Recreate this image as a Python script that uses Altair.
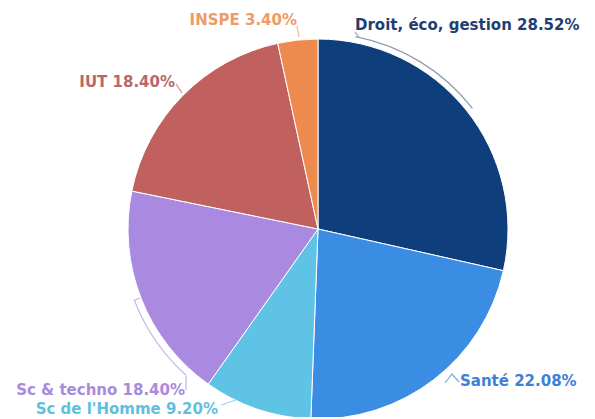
import altair as alt
import pandas as pd
import math

# --- data ---
categories = ["Droit, éco, gestion", "Santé", "Sc de l'Homme", "Sc & techno", "IUT", "INSPE"]
values = [28.52, 22.08, 9.20, 18.40, 18.40, 3.40]
slice_colors = ["#0E3E7C", "#3A8DE3", "#5EC3E5", "#A98AE0", "#C0605F", "#EE8A4E"]
label_colors = ["#1F3F73", "#3E80D8", "#5FBFE0", "#A98BDB", "#B9676A", "#F09A66"]

# --- layout of labels (chart pixel coords) ---
label_x = [347, 452, 210, 177, 167, 289]
label_y = [22, 378, 406, 387, 79, 17]
label_align = ["left", "left", "right", "right", "right", "right"]

CX, CY, R = 310, 221, 190

df = pd.DataFrame({
    "cat": categories,
    "value": values,
    "idx": list(range(len(categories))),
})
df["label"] = [f"{c} {v:.2f}%" for c, v in zip(categories, values)]
df["lx"] = label_x
df["ly"] = label_y
df["align"] = label_align
df["lcol"] = label_colors

pie = alt.Chart(df).mark_arc(radius=R, stroke="white", strokeWidth=1).encode(
    theta=alt.Theta("value:Q", stack=True),
    order=alt.Order("idx:Q"),
    color=alt.Color("cat:N", scale=alt.Scale(domain=categories, range=slice_colors), legend=None),
    x=alt.value(CX),
    y=alt.value(CY),
)

def text_layer(align):
    return alt.Chart(df[df["align"] == align]).mark_text(
        align=align, baseline="alphabetic", font="DejaVu Sans", fontSize=15, fontWeight="bold"
    ).encode(
        x=alt.X("lx:Q", scale=None),
        y=alt.Y("ly:Q", scale=None),
        text="label:N",
        color=alt.Color("lcol:N", scale=None),
    )

# --- leader brackets (arcs following the pie edge) ---
bracket_start_deg = [11, 222]
bracket_end_deg = [52, 249]
bracket_radius = [196, 197]
bracket_color = ["#8C9DB5", "#C4B0EA"]
br = pd.DataFrame({
    "t1": [math.radians(d) for d in bracket_start_deg],
    "t2": [math.radians(d) for d in bracket_end_deg],
    "col": bracket_color,
})
brackets = []
for i in range(len(br)):
    brackets.append(
        alt.Chart(br.iloc[[i]]).mark_arc(
            radius=bracket_radius[i], radius2=bracket_radius[i], fillOpacity=0, strokeWidth=1.2
        ).encode(
            theta=alt.Theta("t1:Q", scale=None),
            theta2="t2:Q",
            stroke=alt.Stroke("col:N", scale=None),
            x=alt.value(CX),
            y=alt.value(CY),
        )
    )

# --- short leader segments ---
leader_id = ["inspe", "inspe", "droit", "droit", "iut", "iut",
             "sante", "sante", "sante", "tech", "tech", "tech2", "tech2", "homme", "homme"]
leader_x = [289, 291, 347, 351, 168, 174, 437, 444, 451, 178, 178, 127, 132, 213, 228]
leader_y = [18, 29, 24, 29, 76, 85, 375, 366, 374, 368, 382, 292, 290, 397, 392]
leader_col = {"inspe": "#F2B08A", "droit": "#8C9DB5", "iut": "#C98A8C", "sante": "#7FA8E0",
              "tech": "#C4B0EA", "tech2": "#C4B0EA", "homme": "#9AD4EA"}
ld = pd.DataFrame({"id": leader_id, "x": leader_x, "y": leader_y})
ld["k"] = range(len(ld))
ld["col"] = [leader_col[i] for i in leader_id]
leaders = alt.Chart(ld).mark_line(strokeWidth=1.2).encode(
    x=alt.X("x:Q", scale=None),
    y=alt.Y("y:Q", scale=None),
    detail="id:N",
    order="k:Q",
    color=alt.Color("col:N", scale=None),
)

chart = alt.layer(pie, *brackets, leaders, text_layer("left"), text_layer("right")).properties(
    width=579, height=409, padding=0, autosize=alt.AutoSizeParams(type="none")
).configure_view(stroke=None)

chart.save("out.html", embed_options={"renderer": "svg", "actions": False})
